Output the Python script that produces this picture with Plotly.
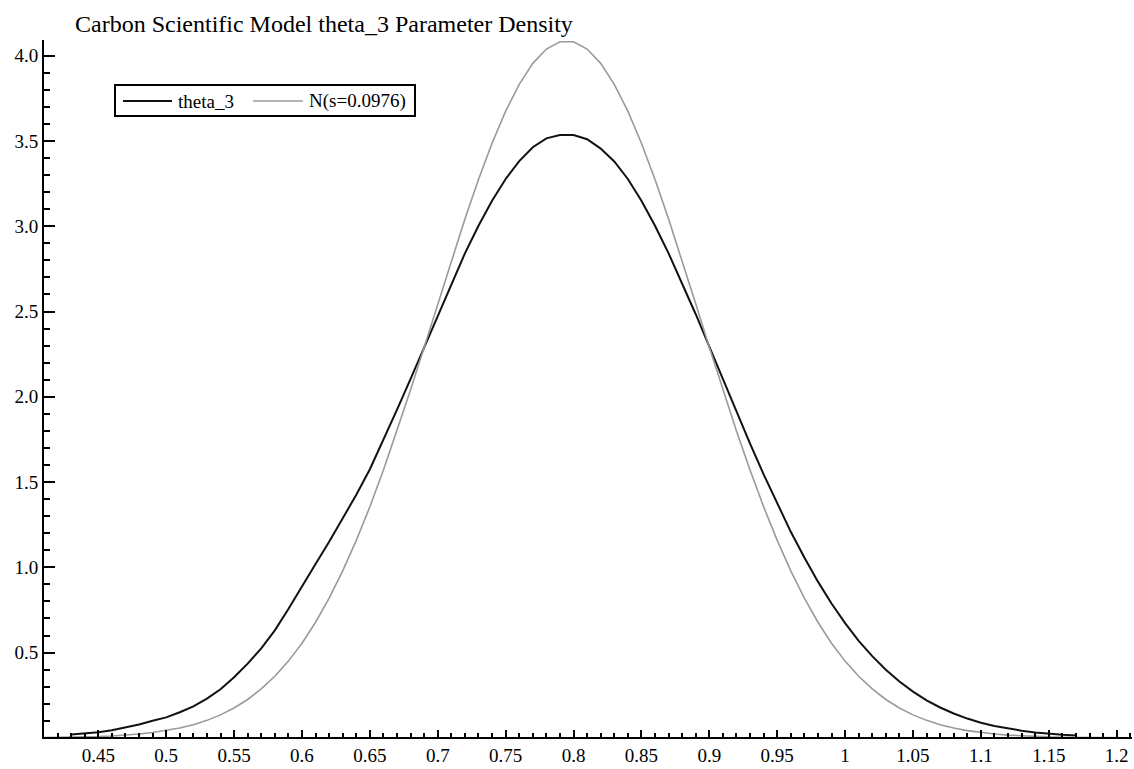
import plotly.graph_objects as go

# ---- data ----
x_theta = [0.43, 0.44, 0.45, 0.46, 0.47, 0.48, 0.49, 0.50, 0.51, 0.52, 0.53, 0.54,
           0.55, 0.56, 0.57, 0.58, 0.59, 0.60, 0.61, 0.62, 0.63, 0.64, 0.65, 0.66,
           0.67, 0.68, 0.69, 0.70, 0.71, 0.72, 0.73, 0.74, 0.75, 0.76, 0.77, 0.78,
           0.79, 0.80, 0.81, 0.82, 0.83, 0.84, 0.85, 0.86, 0.87, 0.88, 0.89, 0.90,
           0.91, 0.92, 0.93, 0.94, 0.95, 0.96, 0.97, 0.98, 0.99, 1.00, 1.01, 1.02,
           1.03, 1.04, 1.05, 1.06, 1.07, 1.08, 1.09, 1.10, 1.11, 1.12, 1.13, 1.14,
           1.15, 1.16, 1.17]
y_theta = [0.020, 0.025, 0.033, 0.045, 0.060, 0.078, 0.100, 0.120, 0.150, 0.185, 0.230, 0.285,
           0.355, 0.435, 0.525, 0.630, 0.755, 0.890, 1.020, 1.150, 1.285, 1.425, 1.575, 1.745,
           1.925, 2.105, 2.290, 2.480, 2.667, 2.841, 3.003, 3.150, 3.277, 3.382, 3.463, 3.515,
           3.535, 3.535, 3.510, 3.455, 3.380, 3.277, 3.150, 3.003, 2.841, 2.667, 2.484, 2.294,
           2.103, 1.913, 1.725, 1.545, 1.372, 1.208, 1.057, 0.916, 0.788, 0.673, 0.569, 0.479,
           0.399, 0.330, 0.271, 0.220, 0.178, 0.143, 0.113, 0.089, 0.070, 0.054, 0.042, 0.032,
           0.024, 0.018, 0.014]

x_norm = [0.41, 0.42, 0.43, 0.44, 0.45, 0.46, 0.47, 0.48, 0.49, 0.50, 0.51, 0.52,
          0.53, 0.54, 0.55, 0.56, 0.57, 0.58, 0.59, 0.60, 0.61, 0.62, 0.63, 0.64,
          0.65, 0.66, 0.67, 0.68, 0.69, 0.70, 0.71, 0.72, 0.73, 0.74, 0.75, 0.76,
          0.77, 0.78, 0.79, 0.80, 0.81, 0.82, 0.83, 0.84, 0.85, 0.86, 0.87, 0.88,
          0.89, 0.90, 0.91, 0.92, 0.93, 0.94, 0.95, 0.96, 0.97, 0.98, 0.99, 1.00,
          1.01, 1.02, 1.03, 1.04, 1.05, 1.06, 1.07, 1.08, 1.09, 1.10, 1.11, 1.12,
          1.13, 1.14, 1.15, 1.16, 1.17, 1.18, 1.19, 1.20, 1.21]
y_norm = [0.0017, 0.0025, 0.0038, 0.0055, 0.0079, 0.0113, 0.016, 0.0224, 0.031, 0.0424, 0.0575, 0.0772,
          0.1025, 0.1347, 0.175, 0.225, 0.287, 0.361, 0.450, 0.555, 0.678, 0.819, 0.979, 1.158,
          1.355, 1.570, 1.800, 2.041, 2.291, 2.545, 2.797, 3.042, 3.274, 3.487, 3.675, 3.832,
          3.955, 4.039, 4.082, 4.082, 4.039, 3.955, 3.832, 3.675, 3.487, 3.274, 3.042, 2.797,
          2.545, 2.291, 2.041, 1.800, 1.570, 1.355, 1.158, 0.979, 0.819, 0.678, 0.555, 0.450,
          0.361, 0.287, 0.225, 0.175, 0.1347, 0.1025, 0.0772, 0.0575, 0.0424, 0.031, 0.0224, 0.016,
          0.0113, 0.0079, 0.0055, 0.0038, 0.0025, 0.0017, 0.0011, 0.0007, 0.0004]

x_tickvals = [0.45, 0.5, 0.55, 0.6, 0.65, 0.7, 0.75, 0.8, 0.85, 0.9, 0.95, 1.0, 1.05, 1.1, 1.15, 1.2]
x_ticktext = ["0.45", "0.5", "0.55", "0.6", "0.65", "0.7", "0.75", "0.8", "0.85", "0.9",
              "0.95", "1", "1.05", "1.1", "1.15", "1.2"]
y_tickvals = [0.5, 1.0, 1.5, 2.0, 2.5, 3.0, 3.5, 4.0]
y_ticktext = ["0.5", "1.0", "1.5", "2.0", "2.5", "3.0", "3.5", "4.0"]

title_text = "Carbon Scientific Model theta_3 Parameter Density"
name_theta = "theta_3"
name_norm = "N(s=0.0976)"

FONT = "Liberation Serif, Times New Roman, serif"
BLACK = "#111111"
GRAY = "#9a9a9a"

# plot-area geometry (pixels) used to place the hand-drawn legend box
L, R, T, B = 44, 2, 40, 32
PW, PH = 1134 - L - R, 769 - T - B


def px(xp):
    return (xp - L) / PW


def py(yp):
    return (769 - B - yp) / PH


fig = go.Figure()
fig.add_trace(go.Scatter(x=x_theta, y=y_theta, mode="lines", name=name_theta,
                         line=dict(color=BLACK, width=2), showlegend=False))
fig.add_trace(go.Scatter(x=x_norm, y=y_norm, mode="lines", name=name_norm,
                         line=dict(color=GRAY, width=1.6), showlegend=False))

# legend box (drawn like the reference's boxed legend)
ly = 101
shapes = [
    dict(type="rect", xref="paper", yref="paper", x0=px(115), x1=px(415), y0=py(116), y1=py(85),
         line=dict(color="black", width=2), fillcolor="white", layer="above"),
    dict(type="line", xref="paper", yref="paper", x0=px(123), x1=px(172), y0=py(ly), y1=py(ly),
         line=dict(color=BLACK, width=2), layer="above"),
    dict(type="line", xref="paper", yref="paper", x0=px(253), x1=px(303), y0=py(ly), y1=py(ly),
         line=dict(color=GRAY, width=1.6), layer="above"),
]
annotations = [
    dict(text=name_theta, xref="paper", yref="paper", x=px(176), y=py(ly), xanchor="left",
         yanchor="middle", showarrow=False, font=dict(family=FONT, size=19, color="black")),
    dict(text=name_norm, xref="paper", yref="paper", x=px(307), y=py(ly), xanchor="left",
         yanchor="middle", showarrow=False, font=dict(family=FONT, size=19, color="black")),
]

fig.update_layout(
    width=1134, height=769,
    margin=dict(l=L, r=R, t=T, b=B),
    paper_bgcolor="white", plot_bgcolor="white",
    font=dict(family=FONT, color="black", size=19),
    title=dict(text=title_text, x=75 / 1134, xanchor="left",
               y=1 - 24 / 769, yanchor="middle", yref="container",
               font=dict(family=FONT, size=24, color="black")),
    showlegend=False,
    shapes=shapes,
    annotations=annotations,
    xaxis=dict(range=[0.41, 1.2113], showgrid=False, zeroline=False,
               showline=True, linecolor="black", linewidth=2,
               ticks="inside", ticklen=7, tickwidth=1.5, tickcolor="black",
               tickvals=x_tickvals, ticktext=x_ticktext,
               tickfont=dict(family=FONT, size=19, color="black"),
               minor=dict(ticks="inside", ticklen=4, tickwidth=1.5, tickcolor="black",
                          tick0=0.0, dtick=0.01)),
    yaxis=dict(range=[0.005, 4.092], showgrid=False, zeroline=False,
               showline=True, linecolor="black", linewidth=2,
               ticks="inside", ticklen=11, tickwidth=1.5, tickcolor="black",
               tickvals=y_tickvals, ticktext=y_ticktext,
               tickfont=dict(family=FONT, size=19, color="black"),
               minor=dict(ticks="inside", ticklen=6, tickwidth=1.5, tickcolor="black",
                          tick0=0.0, dtick=0.1)),
)

fig.write_html("out.html")
